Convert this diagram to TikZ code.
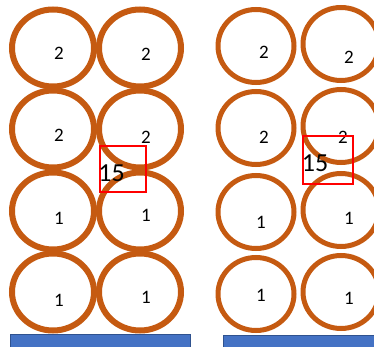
\documentclass[tikz,border=0pt]{standalone}
\usepackage{fontspec}
\setmainfont{Carlito}
\definecolor{ring}{RGB}{197,90,17}
\definecolor{barfill}{RGB}{68,114,196}
\definecolor{barline}{RGB}{47,82,143}
\begin{document}
\begin{tikzpicture}[x=1pt,y=-1pt,
  ringL/.style={draw=ring,line width=6pt},
  ringR/.style={draw=ring,line width=5pt},
  num/.style={font=\fontsize{19}{21}\selectfont,inner sep=0pt},
  big/.style={font=\fontsize{26}{28}\selectfont,inner sep=0pt},
  redbox/.style={draw=red,line width=2pt},
  bar/.style={fill=barfill,draw=barline,line width=1.5pt}]
\useasboundingbox (0,0) rectangle (374,347);
% left group
\foreach \x/\y in {53/48,140/48,53/129,140/129,53/211,140/211,53/292,140/292}
  \draw[ringL] (\x,\y) ellipse [x radius=41, y radius=38.5];
\node[num] (l1) at (59,53) {2};
\node[num] (l2) at (146,54) {2};
\node[num] (l3) at (59,135) {2};
\node[num] (l4) at (146,137) {2};
\node[num] (l5) at (59,218) {1};
\node[num] (l6) at (146,215) {1};
\node[num] (l7) at (59,300) {1};
\node[num] (l8) at (146,297) {1};
\node[redbox,minimum width=46pt,minimum height=46pt,inner sep=0pt] (lbox) at (123,169.5) {};
\node[big] (l15) at (111.5,173.5) {15};
\node[bar,minimum width=180pt,minimum height=13pt,inner sep=0pt,anchor=north west] (lbar) at (9.5,333.5) {};
% right group
\foreach \x/\y in {256/46,341/44,256/128,341/126,256/212,341/210,256/294,341/292}
  \draw[ringR] (\x,\y) ellipse [x radius=38, y radius=36.5];
\node[num] (r1) at (264,52) {2};
\node[num] (r2) at (349,57) {2};
\node[num] (r3) at (264,137) {2};
\node[num] (r4) at (343,137) {2};
\node[num] (r5) at (261,222) {1};
\node[num] (r6) at (349,218) {1};
\node[num] (r7) at (261,295) {1};
\node[num] (r8) at (349,298) {1};
\node[redbox,minimum width=50pt,minimum height=48pt,inner sep=0pt] (rbox) at (327.5,160.5) {};
\node[big] (r15) at (315,163) {15};
\node[bar,minimum width=160pt,minimum height=13pt,inner sep=0pt,anchor=north west] (rbar) at (222.5,334.5) {};
\end{tikzpicture}
\end{document}
